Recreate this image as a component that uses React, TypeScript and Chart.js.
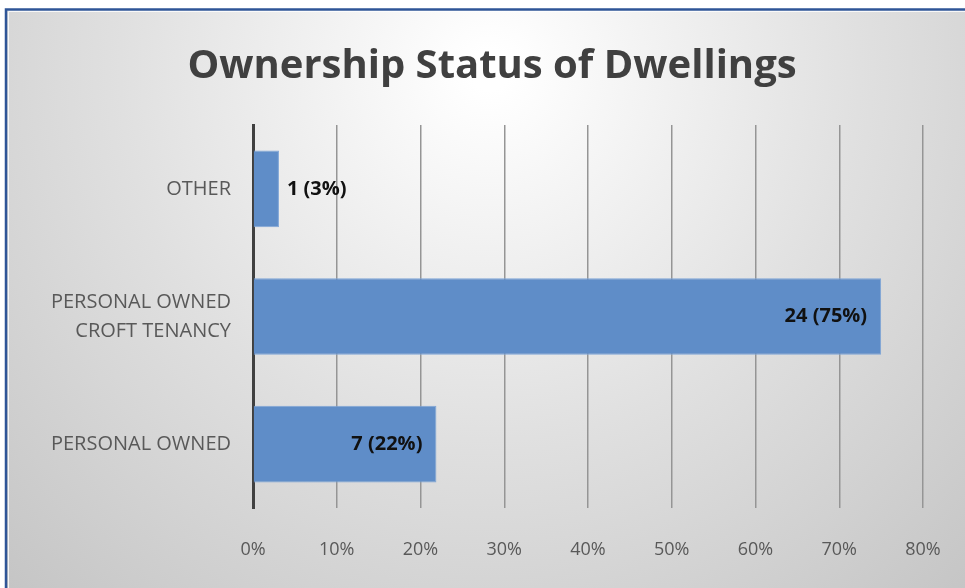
import React, { useEffect, useRef } from "react";
import { Chart, registerables } from "chart.js";

Chart.register(...registerables);

const categories: (string | string[])[] = ["OTHER", ["PERSONAL OWNED", "CROFT TENANCY"], "PERSONAL OWNED"];
const percentValues = [3.1, 75, 21.9];
const dataLabels = ["1 (3%)", "24 (75%)", "7 (22%)"];
const labelInside = [false, true, true];
const xTicks = [0, 10, 20, 30, 40, 50, 60, 70, 80];
const titleText = "Ownership Status of Dwellings";

const FONT = "'Open Sans', 'Liberation Sans', sans-serif";

const backgroundPlugin = {
  id: "bgPlugin",
  beforeDraw(chart: any) {
    const { ctx, width, height } = chart;
    ctx.save();
    ctx.fillStyle = "#ffffff";
    ctx.fillRect(0, 0, width, height);
    const g = ctx.createRadialGradient(490, 70, 20, 490, 70, 720);
    g.addColorStop(0, "#ffffff");
    g.addColorStop(0.5, "#e0e0e0");
    g.addColorStop(1, "#c4c4c4");
    ctx.fillStyle = g;
    ctx.fillRect(7, 11, width - 7, height - 11);
    ctx.strokeStyle = "#2f5597";
    ctx.lineWidth = 2.5;
    ctx.beginPath();
    ctx.moveTo(6, height);
    ctx.lineTo(6, 9.5);
    ctx.lineTo(width, 9.5);
    ctx.stroke();
    ctx.strokeStyle = "rgba(255,255,255,0.8)";
    ctx.lineWidth = 1;
    ctx.beginPath();
    ctx.moveTo(8.5, height);
    ctx.lineTo(8.5, 11.5);
    ctx.lineTo(width, 11.5);
    ctx.stroke();
    // title
    ctx.fillStyle = "#404040";
    ctx.font = `bold 40px ${FONT}`;
    ctx.textAlign = "center";
    ctx.textBaseline = "middle";
    ctx.fillText(titleText, 492, 67);
    ctx.restore();
  },
};

const labelPlugin = {
  id: "barLabels",
  afterDatasetsDraw(chart: any) {
    const { ctx } = chart;
    const meta = chart.getDatasetMeta(0);
    ctx.save();
    ctx.font = `bold 20px ${FONT}`;
    ctx.fillStyle = "#111111";
    ctx.textBaseline = "middle";
    meta.data.forEach((bar: any, i: number) => {
      if (labelInside[i]) {
        ctx.textAlign = "right";
        ctx.fillText(dataLabels[i], bar.x - 14, bar.y);
      } else {
        ctx.textAlign = "left";
        ctx.fillText(dataLabels[i], bar.x + 8, bar.y);
      }
    });
    ctx.restore();
  },
};

export default function App() {
  const ref = useRef<HTMLCanvasElement>(null);
  useEffect(() => {
    document.body.style.margin = "0";
    const chart = new Chart(ref.current!, {
      type: "bar",
      data: {
        labels: categories,
        datasets: [
          {
            data: percentValues,
            backgroundColor: "#5f8dc8",
            borderColor: "#7fa5d6",
            borderWidth: 1,
            barPercentage: 0.6,
            categoryPercentage: 1,
          },
        ],
      },
      options: {
        indexAxis: "y",
        responsive: false,
        animation: false,
        layout: { padding: { top: 125, right: 42, left: 0, bottom: 0 } },
        plugins: { legend: { display: false }, title: { display: false }, tooltip: { enabled: false } },
        scales: {
          x: {
            min: 0,
            max: 80,
            afterBuildTicks(axis: any) {
              axis.ticks = xTicks.map((v) => ({ value: v }));
            },
            afterFit(axis: any) {
              axis.height = 80;
              axis.paddingLeft = 0;
              axis.paddingRight = 0;
            },
            ticks: {
              callback: (v: any) => v + "%",
              color: "#595959",
              font: { family: FONT, size: 18 },
              padding: 31,
            },
            grid: { color: "#959595", lineWidth: 1.5, drawTicks: false },
            border: { display: false },
          },
          y: {
            afterFit(axis: any) {
              axis.width = 253;
            },
            ticks: {
              color: "#595959",
              font: { family: FONT, size: 20, lineHeight: 1.45 },
              padding: 22,
            },
            grid: { display: false, drawTicks: false },
            border: { display: true, color: "#404040", width: 3 },
          },
        },
      },
      plugins: [backgroundPlugin, labelPlugin],
    });
    return () => chart.destroy();
  }, []);
  return <canvas ref={ref} width={965} height={588} style={{ display: "block" }} />;
}
